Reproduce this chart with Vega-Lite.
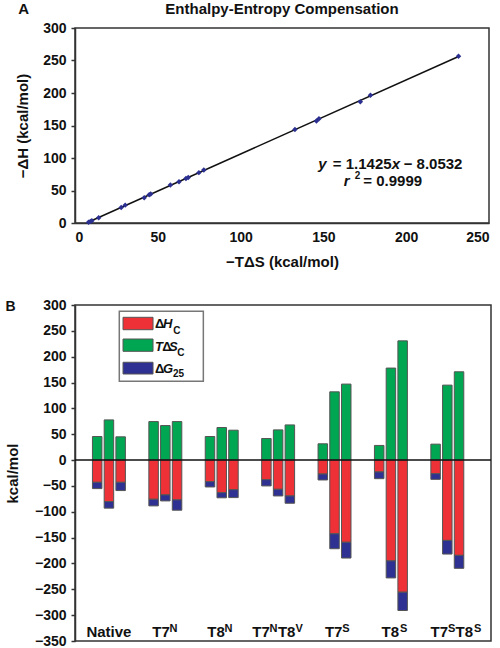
{
"$schema": "https://vega.github.io/schema/vega-lite/v6.json",
"background": "white",
"padding": {"left": 4, "top": 0, "right": 0, "bottom": 0},
"spacing": 27,
"config": {
  "font": "Liberation Sans",
  "view": {"stroke": "#333", "strokeWidth": 1.5},
  "axis": {"labelFont": "Liberation Sans", "labelFontWeight": "bold", "labelFontSize": 14, "labelColor": "#111", "labelOverlap": false, "titleFont": "Liberation Sans", "titleFontWeight": "bold", "titleFontSize": 15, "titleColor": "#111", "domainColor": "#333", "domainWidth": 1.5, "tickColor": "#333", "tickWidth": 1.5, "grid": false},
  "text": {"font": "Liberation Sans", "fontWeight": "bold", "fill": "#111"},
  "title": {"font": "Liberation Sans", "fontWeight": "bold", "fontSize": 15, "color": "#111"}
},
"datasets": {
  "scatter": [
    {"tds": 8.2, "dh": 1}, {"tds": 9.3, "dh": 2.5}, {"tds": 10.2, "dh": 3.5}, {"tds": 14.3, "dh": 8},
    {"tds": 27.9, "dh": 24}, {"tds": 30.3, "dh": 27.5}, {"tds": 41.8, "dh": 39}, {"tds": 44.8, "dh": 43.5},
    {"tds": 45.7, "dh": 44.5}, {"tds": 57.6, "dh": 58.5}, {"tds": 62.8, "dh": 63.5}, {"tds": 67, "dh": 68.5},
    {"tds": 68.4, "dh": 70}, {"tds": 74.8, "dh": 77.5}, {"tds": 77.8, "dh": 81.5}, {"tds": 132.8, "dh": 144},
    {"tds": 145.8, "dh": 157}, {"tds": 147.3, "dh": 160.5}, {"tds": 172.3, "dh": 186.5}, {"tds": 178.4, "dh": 196.5},
    {"tds": 231.6, "dh": 256.5}
  ],
  "bars": [
    {"group": "Native", "bar": 1, "component": "TdS", "value": 45.6}, {"group": "Native", "bar": 1, "component": "dH", "value": -43}, {"group": "Native", "bar": 1, "component": "dG", "value": -12.2},
    {"group": "Native", "bar": 2, "component": "TdS", "value": 77.7}, {"group": "Native", "bar": 2, "component": "dH", "value": -80.3}, {"group": "Native", "bar": 2, "component": "dG", "value": -12.7},
    {"group": "Native", "bar": 3, "component": "TdS", "value": 45}, {"group": "Native", "bar": 3, "component": "dH", "value": -43}, {"group": "Native", "bar": 3, "component": "dG", "value": -16},
    {"group": "T7N", "bar": 1, "component": "TdS", "value": 74.5}, {"group": "T7N", "bar": 1, "component": "dH", "value": -75.8}, {"group": "T7N", "bar": 1, "component": "dG", "value": -12.8},
    {"group": "T7N", "bar": 2, "component": "TdS", "value": 66.8}, {"group": "T7N", "bar": 2, "component": "dH", "value": -67.4}, {"group": "T7N", "bar": 2, "component": "dG", "value": -11.6},
    {"group": "T7N", "bar": 3, "component": "TdS", "value": 74.5}, {"group": "T7N", "bar": 3, "component": "dH", "value": -77}, {"group": "T7N", "bar": 3, "component": "dG", "value": -20},
    {"group": "T8N", "bar": 1, "component": "TdS", "value": 45.6}, {"group": "T8N", "bar": 1, "component": "dH", "value": -41.7}, {"group": "T8N", "bar": 1, "component": "dG", "value": -10.3},
    {"group": "T8N", "bar": 2, "component": "TdS", "value": 63}, {"group": "T8N", "bar": 2, "component": "dH", "value": -63}, {"group": "T8N", "bar": 2, "component": "dG", "value": -10},
    {"group": "T8N", "bar": 3, "component": "TdS", "value": 57.8}, {"group": "T8N", "bar": 3, "component": "dH", "value": -57.2}, {"group": "T8N", "bar": 3, "component": "dG", "value": -15.4},
    {"group": "T7NT8V", "bar": 1, "component": "TdS", "value": 41.7}, {"group": "T7NT8V", "bar": 1, "component": "dH", "value": -37.9}, {"group": "T7NT8V", "bar": 1, "component": "dG", "value": -12.1},
    {"group": "T7NT8V", "bar": 2, "component": "TdS", "value": 58.4}, {"group": "T7NT8V", "bar": 2, "component": "dH", "value": -56.5}, {"group": "T7NT8V", "bar": 2, "component": "dG", "value": -12.9},
    {"group": "T7NT8V", "bar": 3, "component": "TdS", "value": 68}, {"group": "T7NT8V", "bar": 3, "component": "dH", "value": -69.4}, {"group": "T7NT8V", "bar": 3, "component": "dG", "value": -14.1},
    {"group": "T7S", "bar": 1, "component": "TdS", "value": 31.5}, {"group": "T7S", "bar": 1, "component": "dH", "value": -27}, {"group": "T7S", "bar": 1, "component": "dG", "value": -11.5},
    {"group": "T7S", "bar": 2, "component": "TdS", "value": 132}, {"group": "T7S", "bar": 2, "component": "dH", "value": -142.6}, {"group": "T7S", "bar": 2, "component": "dG", "value": -28.9},
    {"group": "T7S", "bar": 3, "component": "TdS", "value": 147}, {"group": "T7S", "bar": 3, "component": "dH", "value": -159}, {"group": "T7S", "bar": 3, "component": "dG", "value": -30.5},
    {"group": "T8S", "bar": 1, "component": "TdS", "value": 28.3}, {"group": "T8S", "bar": 1, "component": "dH", "value": -23}, {"group": "T8S", "bar": 1, "component": "dG", "value": -13},
    {"group": "T8S", "bar": 2, "component": "TdS", "value": 178}, {"group": "T8S", "bar": 2, "component": "dH", "value": -195}, {"group": "T8S", "bar": 2, "component": "dG", "value": -33},
    {"group": "T8S", "bar": 3, "component": "TdS", "value": 230.6}, {"group": "T8S", "bar": 3, "component": "dH", "value": -255.6}, {"group": "T8S", "bar": 3, "component": "dG", "value": -35.4},
    {"group": "T7ST8S", "bar": 1, "component": "TdS", "value": 30.8}, {"group": "T7ST8S", "bar": 1, "component": "dH", "value": -26.3}, {"group": "T7ST8S", "bar": 1, "component": "dG", "value": -11},
    {"group": "T7ST8S", "bar": 2, "component": "TdS", "value": 145}, {"group": "T7ST8S", "bar": 2, "component": "dH", "value": -155.4}, {"group": "T7ST8S", "bar": 2, "component": "dG", "value": -26.4},
    {"group": "T7ST8S", "bar": 3, "component": "TdS", "value": 170.8}, {"group": "T7ST8S", "bar": 3, "component": "dH", "value": -184.3}, {"group": "T7ST8S", "bar": 3, "component": "dG", "value": -25.1}
  ],
  "one": [{}]
},
"vconcat": [
  {
    "width": 414, "height": 195,
    "layer": [
      {
        "data": {"name": "scatter"},
        "transform": [{"regression": "dh", "on": "tds"}],
        "mark": {"type": "line", "color": "#111", "strokeWidth": 1.5},
        "encoding": {
          "x": {"field": "tds", "type": "quantitative", "scale": {"domain": [0, 250], "nice": false},
                "axis": {"values": [0, 50, 100, 150, 200, 250], "tickCount": 30, "ticks": false, "labelPadding": 7, "titlePadding": 10, "labelOverlap": false}, "title": "−TΔS (kcal/mol)"},
          "y": {"field": "dh", "type": "quantitative", "scale": {"domain": [0, 300], "nice": false},
                "axis": {"values": [0, 50, 100, 150, 200, 250, 300], "tickCount": 30, "tickSize": 4, "labelPadding": 5, "titlePadding": 12, "labelOverlap": false}, "title": "−ΔH (kcal/mol)"}
        }
      },
      {
        "data": {"name": "scatter"},
        "mark": {"type": "point", "shape": "diamond", "filled": true, "size": 30, "color": "#2b2f8f", "opacity": 1},
        "encoding": {
          "x": {"field": "tds", "type": "quantitative"},
          "y": {"field": "dh", "type": "quantitative"}
        }
      },
      {"data": {"name": "one"}, "mark": {"type": "text", "fontSize": 15, "align": "center", "baseline": "alphabetic"},
       "encoding": {"x": {"datum": 125}, "y": {"datum": 322}, "text": {"value": "Enthalpy-Entropy Compensation"}}},
      {"data": {"name": "one"}, "mark": {"type": "text", "fontSize": 15, "align": "center", "baseline": "alphabetic"},
       "encoding": {"x": {"datum": -31}, "y": {"datum": 322}, "text": {"value": "A"}}},
      {"data": {"name": "one"}, "mark": {"type": "text", "fontSize": 15, "fontStyle": "italic", "align": "right", "baseline": "alphabetic", "dx": -65},
       "encoding": {"x": {"datum": 191.2}, "y": {"datum": 83.5}, "text": {"value": "y"}}},
      {"data": {"name": "one"}, "mark": {"type": "text", "fontSize": 15, "align": "right", "baseline": "alphabetic", "dx": 0},
       "encoding": {"x": {"datum": 191.2}, "y": {"datum": 83.5}, "text": {"value": "= 1.1425"}}},
      {"data": {"name": "one"}, "mark": {"type": "text", "fontSize": 15, "fontStyle": "italic", "align": "left", "baseline": "alphabetic", "dx": 0},
       "encoding": {"x": {"datum": 191.2}, "y": {"datum": 83.5}, "text": {"value": "x"}}},
      {"data": {"name": "one"}, "mark": {"type": "text", "fontSize": 15, "align": "left", "baseline": "alphabetic", "dx": 12},
       "encoding": {"x": {"datum": 191.2}, "y": {"datum": 83.5}, "text": {"value": "− 8.0532"}}},
      {"data": {"name": "one"}, "mark": {"type": "text", "fontSize": 15, "fontStyle": "italic", "align": "right", "baseline": "alphabetic", "dx": -42},
       "encoding": {"x": {"datum": 191.2}, "y": {"datum": 56.9}, "text": {"value": "r"}}},
      {"data": {"name": "one"}, "mark": {"type": "text", "fontSize": 10, "align": "left", "baseline": "alphabetic", "dx": -37, "dy": -7},
       "encoding": {"x": {"datum": 191.2}, "y": {"datum": 56.9}, "text": {"value": "2"}}},
      {"data": {"name": "one"}, "mark": {"type": "text", "fontSize": 15, "align": "left", "baseline": "alphabetic", "dx": -28.3},
       "encoding": {"x": {"datum": 191.2}, "y": {"datum": 56.9}, "text": {"value": "= 0.9999"}}}
    ]
  },
  {
    "width": 416, "height": 336,
    "title": {"text": "B", "anchor": "start", "frame": "bounds", "baseline": "alphabetic", "offset": -27, "fontSize": 14},
    "layer": [
      {
        "data": {"name": "bars"},
        "mark": {"type": "bar", "stroke": "#555", "strokeWidth": 1},
        "encoding": {
          "x": {"field": "group", "type": "nominal", "scale": {"domain": ["Native", "T7N", "T8N", "T7NT8V", "T7S", "T8S", "T7ST8S"], "paddingInner": 0, "paddingOuter": 0.188, "align": 0.27}, "axis": null},
          "xOffset": {"field": "bar", "type": "nominal", "scale": {"paddingInner": 0.19, "paddingOuter": 1.047}},
          "y": {"field": "value", "type": "quantitative", "stack": "zero", "scale": {"domain": [-350, 300], "nice": false},
                "axis": {"values": [-350, -300, -250, -200, -150, -100, -50, 0, 50, 100, 150, 200, 250, 300], "tickCount": 30, "tickSize": 4, "labelPadding": 5, "titlePadding": 14, "labelOverlap": false}, "title": "kcal/mol"},
          "color": {"field": "component", "type": "nominal", "scale": {"domain": ["dH", "TdS", "dG"], "range": ["#ee3136", "#00a651", "#2e3192"]}, "legend": null},
          "order": {"field": "component", "sort": "descending"}
        }
      },
      {"data": {"name": "one"}, "mark": {"type": "rule", "color": "#111", "strokeWidth": 1.5},
       "encoding": {"y": {"datum": 0}}},
      {"data": {"name": "one"}, "mark": {"type": "rect", "fill": "white", "stroke": "#777", "strokeWidth": 1.5},
       "encoding": {"x": {"datum": "Native", "bandPosition": 0.684}, "x2": {"datum": "T8N", "bandPosition": 0.174}, "y": {"datum": 287.8}, "y2": {"datum": 152.4}}},
      {"data": {"name": "one"}, "mark": {"type": "rect", "fill": "#ee3136", "stroke": "#555", "strokeWidth": 1},
       "encoding": {"x": {"datum": "Native", "bandPosition": 0.75}, "x2": {"datum": "T7N", "bandPosition": 0.282}, "y": {"datum": 276.2}, "y2": {"datum": 252.2}}},
      {"data": {"name": "one"}, "mark": {"type": "rect", "fill": "#00a651", "stroke": "#555", "strokeWidth": 1},
       "encoding": {"x": {"datum": "Native", "bandPosition": 0.75}, "x2": {"datum": "T7N", "bandPosition": 0.282}, "y": {"datum": 234.2}, "y2": {"datum": 210.4}}},
      {"data": {"name": "one"}, "mark": {"type": "rect", "fill": "#2e3192", "stroke": "#555", "strokeWidth": 1},
       "encoding": {"x": {"datum": "Native", "bandPosition": 0.75}, "x2": {"datum": "T7N", "bandPosition": 0.282}, "y": {"datum": 189.2}, "y2": {"datum": 166.5}}},
      {"data": {"name": "one"}, "mark": {"type": "text", "fontSize": 13, "align": "left", "baseline": "alphabetic", "dx": -10.3},
       "encoding": {"x": {"datum": "T7N"}, "y": {"datum": 254.9}, "text": {"value": "Δ"}}},
      {"data": {"name": "one"}, "mark": {"type": "text", "fontSize": 13, "fontStyle": "italic", "align": "left", "baseline": "alphabetic", "dx": -2.3},
       "encoding": {"x": {"datum": "T7N"}, "y": {"datum": 254.9}, "text": {"value": "H"}}},
      {"data": {"name": "one"}, "mark": {"type": "text", "fontSize": 10, "align": "left", "baseline": "alphabetic", "dx": 8, "dy": 5.5},
       "encoding": {"x": {"datum": "T7N"}, "y": {"datum": 254.9}, "text": {"value": "C"}}},
      {"data": {"name": "one"}, "mark": {"type": "text", "fontSize": 13, "fontStyle": "italic", "align": "left", "baseline": "alphabetic", "dx": -10.3},
       "encoding": {"x": {"datum": "T7N"}, "y": {"datum": 210.4}, "text": {"value": "T"}}},
      {"data": {"name": "one"}, "mark": {"type": "text", "fontSize": 13, "align": "left", "baseline": "alphabetic", "dx": -3},
       "encoding": {"x": {"datum": "T7N"}, "y": {"datum": 210.4}, "text": {"value": "Δ"}}},
      {"data": {"name": "one"}, "mark": {"type": "text", "fontSize": 13, "fontStyle": "italic", "align": "left", "baseline": "alphabetic", "dx": 3.7},
       "encoding": {"x": {"datum": "T7N"}, "y": {"datum": 210.4}, "text": {"value": "S"}}},
      {"data": {"name": "one"}, "mark": {"type": "text", "fontSize": 10, "align": "left", "baseline": "alphabetic", "dx": 12, "dy": 4.5},
       "encoding": {"x": {"datum": "T7N"}, "y": {"datum": 210.4}, "text": {"value": "C"}}},
      {"data": {"name": "one"}, "mark": {"type": "text", "fontSize": 13, "align": "left", "baseline": "alphabetic", "dx": -10.3},
       "encoding": {"x": {"datum": "T7N"}, "y": {"datum": 167.9}, "text": {"value": "Δ"}}},
      {"data": {"name": "one"}, "mark": {"type": "text", "fontSize": 13, "fontStyle": "italic", "align": "left", "baseline": "alphabetic", "dx": -2.3},
       "encoding": {"x": {"datum": "T7N"}, "y": {"datum": 167.9}, "text": {"value": "G"}}},
      {"data": {"name": "one"}, "mark": {"type": "text", "fontSize": 10, "align": "left", "baseline": "alphabetic", "dx": 7.7, "dy": 4},
       "encoding": {"x": {"datum": "T7N"}, "y": {"datum": 167.9}, "text": {"value": "25"}}},
      {"data": {"name": "one"}, "mark": {"type": "text", "fontSize": 15, "align": "center", "baseline": "alphabetic"},
       "encoding": {"x": {"datum": "Native"}, "y": {"datum": -342.3}, "text": {"value": "Native"}}},
      {"data": {"name": "one"}, "mark": {"type": "text", "fontSize": 15, "align": "left", "baseline": "alphabetic", "dx": -13.1},
       "encoding": {"x": {"datum": "T7N"}, "y": {"datum": -342.3}, "text": {"value": "T7"}}},
      {"data": {"name": "one"}, "mark": {"type": "text", "fontSize": 11, "align": "left", "baseline": "alphabetic", "dx": 4.3, "dy": -5},
       "encoding": {"x": {"datum": "T7N"}, "y": {"datum": -342.3}, "text": {"value": "N"}}},
      {"data": {"name": "one"}, "mark": {"type": "text", "fontSize": 15, "align": "left", "baseline": "alphabetic", "dx": -14.5},
       "encoding": {"x": {"datum": "T8N"}, "y": {"datum": -342.3}, "text": {"value": "T8"}}},
      {"data": {"name": "one"}, "mark": {"type": "text", "fontSize": 11, "align": "left", "baseline": "alphabetic", "dx": 2.9, "dy": -5},
       "encoding": {"x": {"datum": "T8N"}, "y": {"datum": -342.3}, "text": {"value": "N"}}},
      {"data": {"name": "one"}, "mark": {"type": "text", "fontSize": 15, "align": "left", "baseline": "alphabetic", "dx": -25.9},
       "encoding": {"x": {"datum": "T7NT8V"}, "y": {"datum": -342.3}, "text": {"value": "T7"}}},
      {"data": {"name": "one"}, "mark": {"type": "text", "fontSize": 11, "align": "left", "baseline": "alphabetic", "dx": -8.5, "dy": -5},
       "encoding": {"x": {"datum": "T7NT8V"}, "y": {"datum": -342.3}, "text": {"value": "N"}}},
      {"data": {"name": "one"}, "mark": {"type": "text", "fontSize": 15, "align": "left", "baseline": "alphabetic", "dx": -0.2},
       "encoding": {"x": {"datum": "T7NT8V"}, "y": {"datum": -342.3}, "text": {"value": "T8"}}},
      {"data": {"name": "one"}, "mark": {"type": "text", "fontSize": 11, "align": "left", "baseline": "alphabetic", "dx": 17.5, "dy": -5},
       "encoding": {"x": {"datum": "T7NT8V"}, "y": {"datum": -342.3}, "text": {"value": "V"}}},
      {"data": {"name": "one"}, "mark": {"type": "text", "fontSize": 15, "align": "left", "baseline": "alphabetic", "dx": -9.6},
       "encoding": {"x": {"datum": "T7S"}, "y": {"datum": -342.3}, "text": {"value": "T7"}}},
      {"data": {"name": "one"}, "mark": {"type": "text", "fontSize": 11, "align": "left", "baseline": "alphabetic", "dx": 7.7, "dy": -5},
       "encoding": {"x": {"datum": "T7S"}, "y": {"datum": -342.3}, "text": {"value": "S"}}},
      {"data": {"name": "one"}, "mark": {"type": "text", "fontSize": 15, "align": "left", "baseline": "alphabetic", "dx": -9.3},
       "encoding": {"x": {"datum": "T8S"}, "y": {"datum": -342.3}, "text": {"value": "T8"}}},
      {"data": {"name": "one"}, "mark": {"type": "text", "fontSize": 11, "align": "left", "baseline": "alphabetic", "dx": 9, "dy": -5},
       "encoding": {"x": {"datum": "T8S"}, "y": {"datum": -342.3}, "text": {"value": "S"}}},
      {"data": {"name": "one"}, "mark": {"type": "text", "fontSize": 15, "align": "left", "baseline": "alphabetic", "dx": -16.7},
       "encoding": {"x": {"datum": "T7ST8S"}, "y": {"datum": -342.3}, "text": {"value": "T7"}}},
      {"data": {"name": "one"}, "mark": {"type": "text", "fontSize": 11, "align": "left", "baseline": "alphabetic", "dx": 0.6, "dy": -5},
       "encoding": {"x": {"datum": "T7ST8S"}, "y": {"datum": -342.3}, "text": {"value": "S"}}},
      {"data": {"name": "one"}, "mark": {"type": "text", "fontSize": 15, "align": "left", "baseline": "alphabetic", "dx": 8.3},
       "encoding": {"x": {"datum": "T7ST8S"}, "y": {"datum": -342.3}, "text": {"value": "T8"}}},
      {"data": {"name": "one"}, "mark": {"type": "text", "fontSize": 11, "align": "left", "baseline": "alphabetic", "dx": 26.6, "dy": -5},
       "encoding": {"x": {"datum": "T7ST8S"}, "y": {"datum": -342.3}, "text": {"value": "S"}}}
    ]
  }
]
}
